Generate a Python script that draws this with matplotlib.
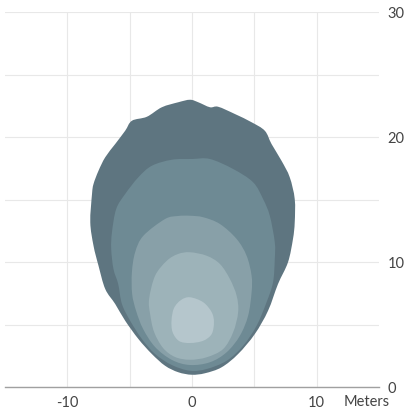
import matplotlib
matplotlib.use("Agg")
import numpy as np
import matplotlib.pyplot as plt
from matplotlib.path import Path
from matplotlib.patches import PathPatch

# isolux contours, metres (x = lateral, y = distance), outer -> inner
outer_x = [-0.16, -1.10, -2.42, -3.62, -4.82, -5.36, -6.16, -6.96, -7.50, -7.90, -8.02, -8.16,
           -7.90, -7.50, -6.96, -6.16, -5.36, -4.30, -3.22, -2.16, -1.10, -0.02, 1.04, 2.38,
           3.70, 5.04, 6.10, 6.90, 7.70, 8.10, 8.24, 8.24, 7.84, 7.18, 6.38, 5.84, 4.78,
           3.44, 2.10, 1.44, 0.50]
outer_y = [22.98, 22.78, 22.38, 21.62, 21.30, 20.50, 19.44, 18.38, 17.30, 16.24, 15.44, 13.18,
           11.30, 9.70, 7.84, 6.64, 5.30, 3.84, 2.64, 1.70, 1.18, 0.98, 1.10, 1.58,
           2.64, 4.24, 6.10, 8.24, 9.98, 11.84, 13.18, 15.04, 16.78, 18.10, 19.44, 20.50, 21.18,
           21.84, 22.42, 22.38, 22.78]

second_x = [0.00, 1.44, 3.30, 4.90, 5.70, 6.24, 6.64, 6.64, 6.50, 5.98, 5.18, 4.10, 2.78, 1.18,
            -0.16, -1.62, -2.96, -4.02, -4.96, -5.62, -5.92, -6.30, -6.48, -6.42, -6.08,
            -5.36, -4.30, -3.22, -1.62]
second_y = [18.24, 18.24, 17.44, 16.38, 15.04, 13.70, 11.58, 10.24, 8.38, 6.78, 4.90, 3.30, 2.10, 1.44,
            1.30, 1.76, 2.64, 3.84, 5.30, 6.64, 8.24, 9.44, 11.04, 12.38, 14.24,
            15.44, 16.78, 17.70, 18.18]

third_x = [-0.16, 0.90, 2.24, 3.58, 4.38, 4.78, 4.78, 4.50, 3.84, 2.78, 1.44, -0.16,
           -1.60, -2.96, -3.92, -4.48, -4.80, -4.82, -4.56, -3.90, -2.16, -1.12]
third_y = [13.70, 13.58, 13.04, 11.84, 10.50, 8.90, 7.58, 5.70, 4.10, 2.78, 1.98, 1.76,
           2.16, 3.20, 4.64, 6.08, 7.44, 9.18, 10.78, 12.10, 13.44, 13.68]

fourth_x = [-0.16, 1.18, 2.24, 3.04, 3.58, 3.70, 3.30, 2.50, 1.18, -0.16,
            -1.36, -2.32, -3.04, -3.36, -3.44, -2.96, -2.02, -1.12]
fourth_y = [10.78, 10.50, 9.84, 8.64, 7.30, 5.98, 4.38, 3.04, 2.38, 2.18,
            2.40, 3.12, 4.40, 5.84, 7.04, 8.90, 10.10, 10.64]

inner_x = [-0.16, 0.90, 1.58, 1.76, 1.58, 0.90, -0.16, -1.04, -1.56, -1.64, -1.44, -0.88]
inner_y = [7.18, 6.78, 5.98, 5.18, 4.24, 3.70, 3.52, 3.68, 4.40, 5.36, 6.32, 6.96]

contours = [
    (outer_x, outer_y, "#5e7580"),
    (second_x, second_y, "#6e8a94"),
    (third_x, third_y, "#88a0a8"),
    (fourth_x, fourth_y, "#9db3b9"),
    (inner_x, inner_y, "#b5c6cc"),
]

x_ticks = [-10, -5, 0, 5, 10]
x_labels = ["-10", "", "0", "", "10"]
y_ticks = [0, 5, 10, 15, 20, 25, 30]
y_labels = ["0", "", "10", "", "20", "", "30"]


def smooth_closed_path(xs, ys):
    """Closed path through the points, drawn with Catmull-Rom style bezier curves."""
    p = np.column_stack([xs, ys])
    n = len(p)
    verts = [p[0]]
    codes = [Path.MOVETO]
    for i in range(n):
        p0, p1, p2, p3 = p[i - 1], p[i], p[(i + 1) % n], p[(i + 2) % n]
        verts += [p1 + (p2 - p0) / 6, p2 - (p3 - p1) / 6, p2]
        codes += [Path.CURVE4] * 3
    return Path(verts, codes)


plt.rcParams["font.family"] = ["Lato", "DejaVu Sans"]

fig = plt.figure(figsize=(4.05, 4.10), dpi=100)
ax = fig.add_axes([5 / 405, 22 / 410, 374 / 405, 375 / 410])

for xs, ys, color in contours:
    ax.add_patch(PathPatch(smooth_closed_path(xs, ys), facecolor=color, lw=0, zorder=2))

ax.set_xlim(-15, 15)
ax.set_ylim(0, 30)
ax.set_xticks(x_ticks)
ax.set_xticklabels(x_labels)
ax.set_yticks(y_ticks)
ax.set_yticklabels(y_labels)
ax.yaxis.tick_right()
ax.tick_params(axis="both", length=0, labelsize=10.5, labelcolor="#444444")
ax.tick_params(axis="x", pad=6)
ax.tick_params(axis="y", pad=6)
ax.grid(True, color="#e8e8e8", lw=0.8)
ax.set_axisbelow(True)

for side in ["top", "left", "right"]:
    ax.spines[side].set_visible(False)
ax.spines["bottom"].set_color("#a0a0a0")
ax.spines["bottom"].set_linewidth(1)

ax.text(12.2, -1.1, "Meters", fontsize=10.5, color="#444444", ha="left", va="center", clip_on=False)

fig.savefig("out.png", dpi=100)
